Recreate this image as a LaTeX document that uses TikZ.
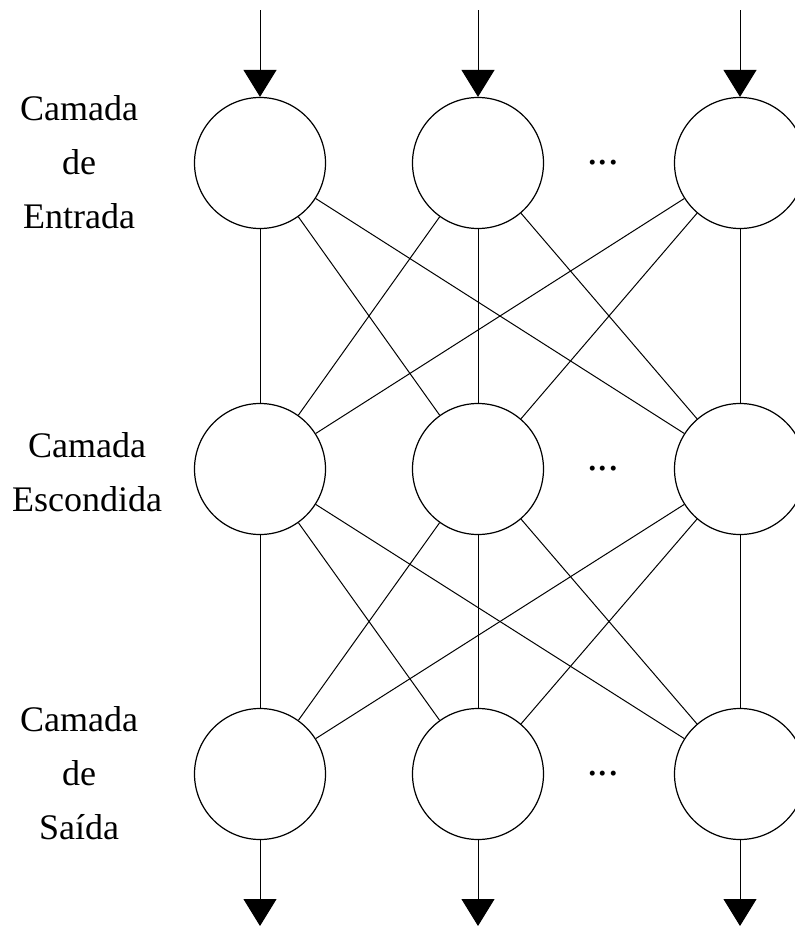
\documentclass[tikz,border=0pt]{standalone}
\usepackage{fontspec}
\setmainfont{Liberation Serif}
\usetikzlibrary{arrows.meta}

\begin{document}
\begin{tikzpicture}[x=0.5pt, y=-0.5pt,
  neuron/.style={circle, draw=black, fill=white, line width=0.6pt, minimum size=65.5pt, inner sep=0pt},
  layerlabel/.style={align=center, font=\fontsize{18}{27}\selectfont},
  dotsym/.style={font=\fontsize{21}{27}\selectfont, inner sep=0pt},
  link/.style={line width=0.5pt},
  signal/.style={line width=0.5pt, -{Triangle[width=16.5pt, length=13.5pt]}}]
  \useasboundingbox (0,0) rectangle (795,926);

  % Neurons: row 1 input, row 2 hidden, row 3 output
  \foreach \r/\y in {1/163, 2/469, 3/774} {
    \foreach \c/\x in {1/260, 2/478, 3/740} {
      \node[neuron] (n\r\c) at (\x,\y) {};
    }
    \node[dotsym] (dots\r) at (603,\y) {...};
  }

  % Full connection between neighbouring layers
  \foreach \r/\s in {1/2, 2/3}
    \foreach \i in {1,2,3}
      \foreach \j in {1,2,3}
        \draw[link] (n\r\i) -- (n\s\j);

  % Input and output signals
  \foreach \c/\x in {1/260, 2/478, 3/740} {
    \coordinate (in\c) at (\x,10);
    \coordinate (out\c) at (\x,926);
    \draw[signal] (in\c) -- (n1\c);
    \draw[signal] (n3\c) -- (out\c);
  }

  % Layer names
  \node[layerlabel] (lblin) at (79,162) {Camada\\de\\Entrada};
  \node[layerlabel] (lblhid) at (87,472) {Camada\\Escondida};
  \node[layerlabel] (lblout) at (79,773) {Camada\\de\\Saída};
\end{tikzpicture}
\end{document}
